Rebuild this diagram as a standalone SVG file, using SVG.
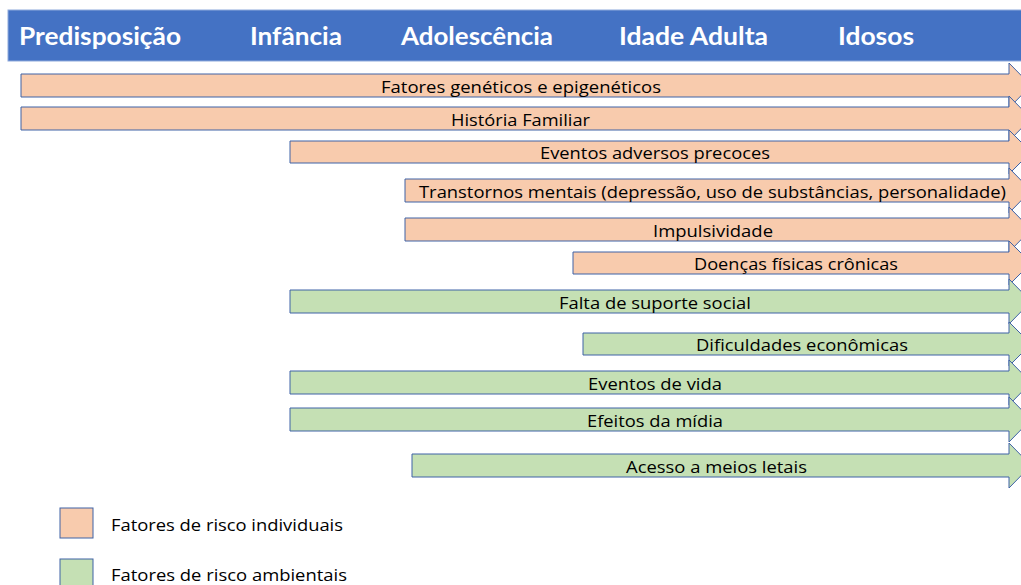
<svg xmlns="http://www.w3.org/2000/svg" width="1021" height="585" viewBox="0 0 1021 585">
<style>
.ind{fill:#F8CBAD;stroke:#3F62A6;stroke-width:1}
.amb{fill:#C5E0B4;stroke:#3F62A6;stroke-width:1}
.lbl{font-family:"Open Sans","Liberation Sans",sans-serif;font-size:15.5px;fill:#000;text-anchor:middle}
.hdr{font-family:Lato,"Liberation Sans",sans-serif;font-size:24px;font-weight:bold;fill:#fff}
.leg{font-family:"Open Sans","Liberation Sans",sans-serif;font-size:15.5px;fill:#000}
</style>
<rect width="1021" height="585" fill="#fff"/>
<g id="header">
<rect x="8" y="10" width="1020" height="51" fill="#4472C4" stroke="#8EA9DB" stroke-width="1"/>
<text class="hdr" x="19" y="45" textLength="162" lengthAdjust="spacingAndGlyphs">Predisposição</text>
<text class="hdr" x="250" y="45" textLength="92" lengthAdjust="spacingAndGlyphs">Infância</text>
<text class="hdr" x="401" y="45" textLength="152" lengthAdjust="spacingAndGlyphs">Adolescência</text>
<text class="hdr" x="619" y="45" textLength="149" lengthAdjust="spacingAndGlyphs">Idade Adulta</text>
<text class="hdr" x="838" y="45" textLength="76" lengthAdjust="spacingAndGlyphs">Idosos</text>
</g>
<g id="connectors"></g>
<g id="bar1"><polygon class="ind" points="21,74 1009,74 1009,63 1031,85.5 1009,108 1009,97 21,97"/><text class="lbl" x="521" y="93" textLength="280" lengthAdjust="spacingAndGlyphs">Fatores genéticos e epigenéticos</text></g>
<g id="bar2"><polygon class="ind" points="21,107 1009,107 1009,96 1031,118.5 1009,141 1009,130 21,130"/><text class="lbl" x="520.5" y="126" textLength="139" lengthAdjust="spacingAndGlyphs">História Familiar</text></g>
<g id="bar3"><polygon class="ind" points="290,141 1009,141 1009,130 1031,152 1009,174 1009,163 290,163"/><text class="lbl" x="655" y="159" textLength="230" lengthAdjust="spacingAndGlyphs">Eventos adversos precoces</text></g>
<g id="bar4"><polygon class="ind" points="405,179 1009,179 1009,168 1031,190.5 1009,213 1009,202 405,202"/><text class="lbl" x="712.5" y="198" textLength="587" lengthAdjust="spacingAndGlyphs">Transtornos mentais (depressão, uso de substâncias, personalidade)</text></g>
<g id="bar5"><polygon class="ind" points="405,218 1009,218 1009,207 1031,229.5 1009,252 1009,241 405,241"/><text class="lbl" x="713" y="237" textLength="120" lengthAdjust="spacingAndGlyphs">Impulsividade</text></g>
<g id="bar6"><polygon class="ind" points="573,252 1009,252 1009,241 1031,263 1009,285 1009,274 573,274"/><text class="lbl" x="796" y="270" textLength="204" lengthAdjust="spacingAndGlyphs">Doenças físicas crônicas</text></g>
<g id="bar7"><polygon class="amb" points="290,290 1009,290 1009,279 1031,301.5 1009,324 1009,313 290,313"/><text class="lbl" x="655" y="309" textLength="192" lengthAdjust="spacingAndGlyphs">Falta de suporte social</text></g>
<g id="bar8"><polygon class="amb" points="583,333 1009,333 1009,322 1031,344 1009,366 1009,355 583,355"/><text class="lbl" x="802" y="351" textLength="212" lengthAdjust="spacingAndGlyphs">Dificuldades econômicas</text></g>
<g id="bar9"><polygon class="amb" points="290,371 1009,371 1009,360 1031,382.5 1009,405 1009,394 290,394"/><text class="lbl" x="655" y="390" textLength="134" lengthAdjust="spacingAndGlyphs">Eventos de vida</text></g>
<g id="bar10"><polygon class="amb" points="290,408 1009,408 1009,397 1031,419.5 1009,442 1009,431 290,431"/><text class="lbl" x="655" y="427" textLength="136" lengthAdjust="spacingAndGlyphs">Efeitos da mídia</text></g>
<g id="bar11"><polygon class="amb" points="412,454 1009,454 1009,443 1031,465.5 1009,488 1009,477 412,477"/><text class="lbl" x="716.5" y="473" textLength="181" lengthAdjust="spacingAndGlyphs">Acesso a meios letais</text></g>
<g id="legend-individual"><rect class="ind" x="60" y="508" width="33" height="30"/><text class="leg" x="111" y="531" textLength="232" lengthAdjust="spacingAndGlyphs">Fatores de risco individuais</text></g>
<g id="legend-ambiental"><rect class="amb" x="60" y="559" width="33" height="30"/><text class="leg" x="111" y="581" textLength="236" lengthAdjust="spacingAndGlyphs">Fatores de risco ambientais</text></g>
</svg>
